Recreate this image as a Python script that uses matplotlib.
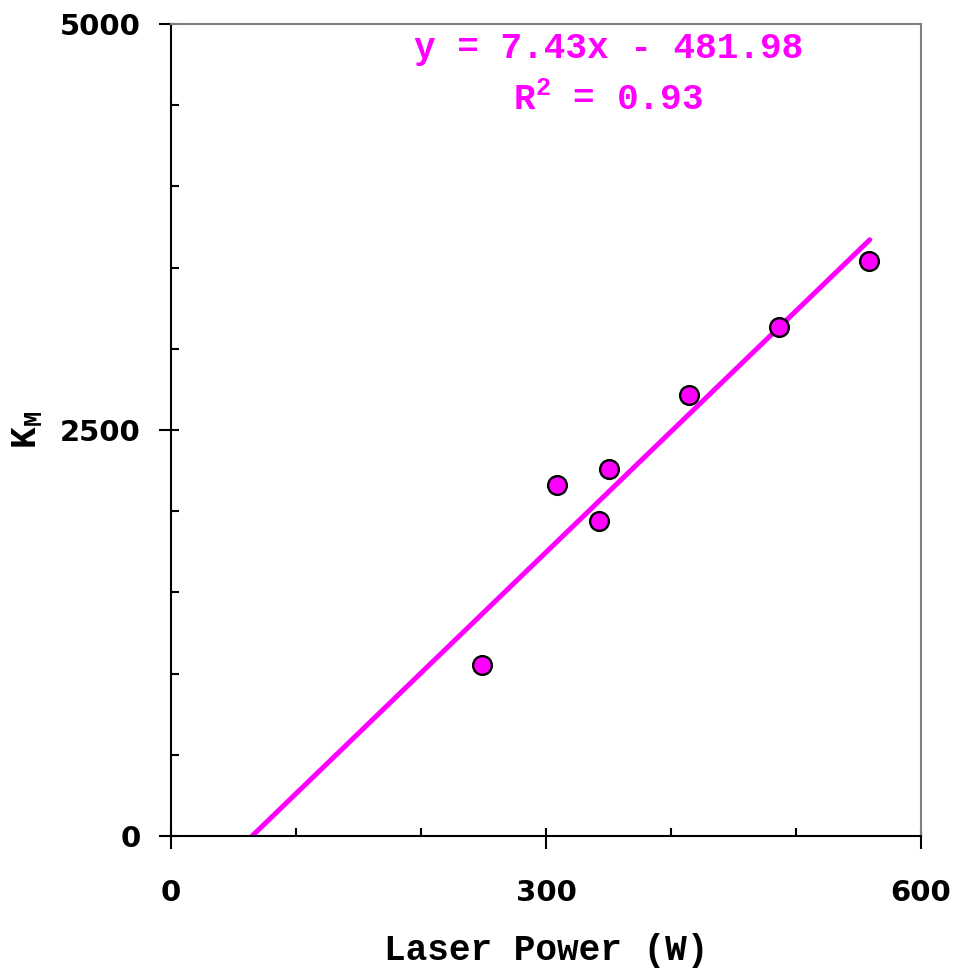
import matplotlib
matplotlib.use('Agg')
import matplotlib.pyplot as plt
from matplotlib.ticker import MultipleLocator
import numpy

# measured points
laser_power = [249, 309, 342, 350, 414, 486, 558]
km_values = [1053, 2161, 1940, 2260, 2716, 3134, 3541]

# linear trendline as printed on the chart
slope = 7.43
intercept = -481.98
r_squared = 0.93
trend_x_end = 559

magenta = '#FF00FF'
mono = 'Liberation Mono'

plt.rcParams['mathtext.fontset'] = 'custom'
plt.rcParams['mathtext.rm'] = 'Liberation Mono:bold'
plt.rcParams['mathtext.it'] = 'Liberation Mono:bold'
plt.rcParams['mathtext.bf'] = 'Liberation Mono:bold'

fig = plt.figure(figsize=(9.59, 9.71), dpi=100)
ax = fig.add_axes([171 / 959, 135 / 971, 750 / 959, 812 / 971])

trend_x = numpy.array([-intercept / slope, trend_x_end])
ax.plot(trend_x, slope * trend_x + intercept, color=magenta, lw=3.6,
        solid_capstyle='round', zorder=2)
ax.plot(laser_power, km_values, 'o', ms=13.5, mfc=magenta, mec='black',
        mew=1.7, zorder=3)

ax.set_xlim(0, 600)
ax.set_ylim(0, 5000)
ax.xaxis.set_major_locator(MultipleLocator(300))
ax.xaxis.set_minor_locator(MultipleLocator(100))
ax.yaxis.set_major_locator(MultipleLocator(2500))
ax.yaxis.set_minor_locator(MultipleLocator(500))
ax.xaxis.remove_overlapping_locs = False
ax.yaxis.remove_overlapping_locs = False

ax.tick_params(which='major', direction='out', length=9, width=1.5,
               labelsize=21, colors='black')
ax.tick_params(which='minor', direction='in', length=5.5, width=1.5)
ax.tick_params(axis='x', which='major', pad=22)
ax.tick_params(axis='y', which='major', pad=13)
for label in ax.get_xticklabels() + ax.get_yticklabels():
    label.set_fontweight('bold')

for name in ['left', 'bottom']:
    ax.spines[name].set_color('black')
    ax.spines[name].set_linewidth(1.5)
for name in ['top', 'right']:
    ax.spines[name].set_color('#808080')
    ax.spines[name].set_linewidth(1.5)

ax.set_xlabel('Laser Power (W)', family=mono, weight='bold', fontsize=26,
              labelpad=19)
ax.set_ylabel(r'$\mathrm{K_M}$', fontsize=26, labelpad=11)

ax.text(0.583, 0.970, 'y = %.2fx - %.2f' % (slope, -intercept),
        transform=ax.transAxes, ha='center', va='center', family=mono,
        weight='bold', fontsize=26, color=magenta)
ax.text(0.583, 0.906, r'$\mathrm{R^2}$ = %.2f' % r_squared,
        transform=ax.transAxes, ha='center', va='center', family=mono,
        weight='bold', fontsize=26, color=magenta)

plt.savefig('out.png', dpi=100)
